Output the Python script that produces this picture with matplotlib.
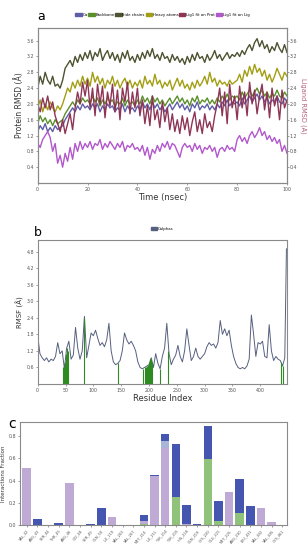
import numpy as np
import matplotlib
matplotlib.use("Agg")
import matplotlib.pyplot as plt
from matplotlib.patches import Patch

# ---------------- Panel a data (RMSD vs time) ----------------
time_ns = list(range(0, 101))
ca_rmsd = [1.3, 1.45, 1.35, 1.5, 1.3, 1.4, 1.3, 1.45, 1.35, 1.4,
           1.45, 1.6, 1.7, 1.8, 1.9, 1.8, 1.95, 1.85, 2.0, 1.9,
           1.95, 1.85, 2.0, 1.9, 2.0, 1.8, 1.95, 1.85, 2.0, 1.9,
           1.95, 1.8, 1.9, 1.85, 2.0, 1.8, 1.95, 1.85, 1.9, 1.8,
           1.95, 1.85, 2.05, 1.9, 2.0, 1.85, 2.05, 1.9, 2.0, 1.85,
           1.95, 1.8, 1.9, 2.0, 1.85, 1.95, 2.05, 1.9, 2.0, 1.85,
           1.95, 1.8, 2.0, 1.9, 2.05, 1.85, 1.95, 1.9, 2.0, 1.85,
           1.95, 1.85, 2.0, 1.9, 2.05, 1.95, 2.1, 1.95, 2.05, 2.0,
           2.05, 1.95, 2.15, 2.0, 2.1, 2.2, 2.05, 2.15, 2.25, 2.1,
           2.2, 2.05, 2.15, 2.0, 2.1, 2.05, 2.2, 2.05, 2.0, 2.15, 2.05]
backbone_rmsd = [1.5, 1.7, 1.55, 1.65, 1.5, 1.6, 1.45, 1.6, 1.5, 1.55,
                 1.6, 1.75, 1.85, 1.95, 2.05, 1.95, 2.1, 2.0, 2.15, 2.05,
                 2.1, 2.0, 2.2, 2.05, 2.15, 1.95, 2.1, 2.0, 2.15, 2.05,
                 2.1, 1.95, 2.05, 2.0, 2.15, 1.95, 2.1, 2.0, 2.05, 1.95,
                 2.1, 2.0, 2.2, 2.05, 2.15, 2.0, 2.2, 2.05, 2.15, 2.0,
                 2.1, 1.95, 2.05, 2.15, 2.0, 2.1, 2.2, 2.05, 2.15, 2.0,
                 2.1, 1.95, 2.15, 2.05, 2.2, 2.0, 2.1, 2.05, 2.15, 2.0,
                 2.1, 2.0, 2.15, 2.05, 2.2, 2.1, 2.25, 2.1, 2.2, 2.15,
                 2.2, 2.1, 2.3, 2.15, 2.25, 2.35, 2.2, 2.3, 2.4, 2.25,
                 2.35, 2.2, 2.3, 2.15, 2.25, 2.2, 2.35, 2.2, 2.15, 2.3, 2.2]
sidechain_rmsd = [2.4, 2.7, 2.5, 2.8, 2.6, 2.5, 2.7, 2.45, 2.5, 2.4,
                  2.6, 2.9, 3.0, 3.1, 2.95, 3.2, 3.05, 3.25, 3.1, 3.3,
                  3.15, 3.35, 3.1, 3.3, 3.2, 3.4, 3.1, 3.25, 3.35, 3.15,
                  3.3, 3.1, 3.25, 3.05, 3.3, 3.15, 3.35, 3.1, 3.2, 3.05,
                  3.25, 3.1, 3.3, 3.15, 3.35, 3.2, 3.4, 3.15, 3.25, 3.1,
                  3.3, 3.15, 3.2, 3.05, 3.25, 3.1, 3.2, 3.05, 3.15, 3.0,
                  3.2, 3.05, 3.25, 3.1, 3.3, 3.15, 3.2, 3.05, 3.25, 3.1,
                  3.2, 3.35, 3.15, 3.25, 3.1, 3.2, 3.3, 3.15, 3.25, 3.2,
                  3.3, 3.2, 3.35, 3.25, 3.4, 3.5, 3.35, 3.55, 3.65, 3.45,
                  3.6, 3.4, 3.5, 3.3, 3.45, 3.35, 3.55, 3.4, 3.3, 3.5, 3.3]
heavy_rmsd = [1.9, 2.1, 1.8, 2.0, 1.85, 2.05, 1.9, 1.8, 1.95, 1.85,
              2.0, 2.2, 2.4, 2.3, 2.55, 2.4, 2.6, 2.45, 2.7, 2.5,
              2.65, 2.45, 2.8, 2.55, 2.7, 2.5, 2.65, 2.4, 2.6, 2.5,
              2.7, 2.45, 2.6, 2.4, 2.55, 2.65, 2.45, 2.6, 2.4, 2.55,
              2.45, 2.6, 2.4, 2.7, 2.5, 2.6, 2.45, 2.75, 2.5, 2.6,
              2.4, 2.55, 2.45, 2.6, 2.35, 2.5, 2.65, 2.45, 2.6, 2.4,
              2.5, 2.35, 2.55, 2.4, 2.6, 2.45, 2.55, 2.7, 2.5, 2.8,
              2.55, 2.65, 2.45, 2.6, 2.5, 2.55, 2.45, 2.6, 2.5, 2.55,
              2.6, 2.75, 2.55, 2.85, 2.7, 2.95, 2.75, 3.0, 2.8, 2.9,
              2.7, 2.85, 2.6, 2.75, 2.55, 2.7, 2.9, 2.75, 2.6, 2.8, 2.7]
lig_on_prot = [2.0, 1.8, 2.15, 1.9, 2.2, 1.85, 2.05, 1.7, 1.5, 1.3,
               1.6, 1.25, 1.5, 1.75, 1.35, 1.9, 2.3, 2.0, 2.55, 2.2,
               2.6, 1.9, 2.4, 1.7, 2.5, 2.0, 2.45, 1.65, 2.3, 1.95,
               2.5, 1.8, 2.35, 1.6, 2.4, 2.05, 2.55, 1.75, 2.3, 1.9,
               2.4, 1.7, 2.1, 1.5, 1.95, 1.45, 2.2, 1.6, 1.85, 1.4,
               2.05, 1.55, 1.9, 1.35, 1.75, 1.3, 1.6, 1.25, 1.7, 1.35,
               1.65, 1.2, 1.55, 1.8, 1.3, 1.6, 1.25, 1.75, 1.4, 1.55,
               1.3, 1.7, 2.0, 2.4, 1.7, 2.3, 1.5, 2.5, 1.9, 2.2,
               1.6, 2.45, 1.9, 2.3, 1.7, 2.55, 2.0, 2.35, 1.75, 2.2,
               2.5, 1.85, 2.3, 1.65, 2.4, 1.95, 2.2, 1.6, 2.35, 1.9, 2.1]
lig_on_lig = [1.0, 0.9, 1.1, 1.2, 1.3, 1.15, 0.8, 1.0, 0.5, 0.7,
              0.4, 0.75, 0.55, 0.9, 0.6, 1.0, 0.8, 1.05, 0.85, 1.0,
              0.9, 1.05, 0.85, 1.0, 0.95, 1.1, 0.85, 1.0, 0.9, 1.05,
              0.95, 0.85, 1.0, 0.9, 1.05, 0.8, 0.95, 0.9, 1.0, 0.85,
              0.9, 0.8, 0.95, 0.7, 0.9, 0.6, 0.85, 0.75, 0.95, 0.8,
              1.0, 0.9, 1.05, 0.85, 1.0, 0.95, 0.8, 0.65, 0.9, 1.0,
              0.9, 0.95, 0.8, 1.0, 0.85, 0.95, 0.75, 0.9, 0.85, 0.95,
              0.8, 0.9, 0.65, 0.85, 0.9, 0.8, 0.95, 0.85, 0.9, 0.8,
              1.1, 1.2, 1.05, 1.15, 1.0, 1.2, 1.3, 1.15, 1.25, 1.4,
              1.2, 1.3, 1.1, 1.2, 1.05, 1.15, 1.0, 1.1, 0.8, 0.95, 0.75]
rmsd_names = ["C\u03b1", "Backbone", "Side chains", "Heavy atoms",
              "Lig1 fit on Prot", "Lig1 fit on Lig"]

# ---------------- Panel b data (RMSF) ----------------
rmsf_residue = list(range(0, 445, 4)) + [447]
rmsf_values = [1.75, 1.1, 0.95, 0.85, 0.95, 0.8, 0.9, 0.85, 1.0, 1.5,
               1.1, 1.2, 0.55, 1.3, 1.55, 0.9, 1.05, 2.05, 1.3, 0.9,
               1.2, 2.45, 0.95, 1.4, 1.85, 1.75, 1.95, 1.65, 1.4, 1.5,
               1.35, 1.6, 2.2, 1.2, 0.8, 0.7, 0.75, 0.85, 1.2, 1.85,
               1.6, 1.45, 1.55, 1.4, 1.2, 0.8, 0.6, 0.55, 0.6, 0.65,
               0.7, 0.95, 0.6, 1.1, 0.75, 0.55, 1.0, 1.3, 2.2, 1.1,
               0.7, 0.9, 1.05, 1.4, 1.0, 0.8, 1.2, 2.0, 1.4, 0.85,
               1.0, 1.3, 1.0, 0.9, 1.0, 1.1, 1.35, 1.5, 1.4, 1.45,
               1.3, 1.5, 2.3, 1.8, 2.0, 1.75, 1.95, 1.4, 1.0, 0.75,
               0.6, 0.55, 0.6, 0.55, 0.65, 0.9, 2.5, 1.8, 1.0, 1.5,
               1.45, 1.55, 1.0, 0.95, 2.15, 1.2, 0.85, 1.0, 0.9, 0.85,
               0.65, 0.95, 4.9]
contact_residue = [46, 47, 48, 49, 50, 51, 52, 53, 54, 83, 144,
                   190, 192, 194, 196, 198, 200, 202, 204, 206, 220, 235, 437, 441]
contact_height = [0.6, 0.6, 0.55, 0.8, 1.0, 1.1, 1.2, 1.3, 1.2, 2.4, 0.75,
                  0.55, 0.6, 0.6, 0.65, 0.7, 0.8, 0.9, 0.95, 0.8, 0.55, 1.2, 0.8, 0.65]

# ---------------- Panel c data (interaction fractions) ----------------
residues = ["VAL_42", "ARG_43", "SER_44", "THR_45", "ARG_46", "GLY_48", "SER_49",
            "GLN_50", "ILE_119", "VAL_203", "VAL_207", "MET_210", "ILE_211",
            "TYR_214", "TYR_215", "HIS_218", "GLN_219", "CYS_220", "GLU_221",
            "MET_225", "ARG_230", "LEU_431", "VAL_432", "VAL_435", "CYS_461"]
hbonds = [0, 0, 0, 0, 0, 0, 0, 0, 0, 0, 0, 0.01, 0, 0, 0.25, 0, 0, 0.59, 0.04,
          0, 0.11, 0, 0, 0, 0]
hydrophobic = [0.51, 0, 0, 0, 0.38, 0, 0, 0, 0.07, 0, 0, 0.03, 0.44, 0.69, 0,
               0.01, 0, 0, 0, 0.30, 0, 0, 0.15, 0.03, 0]
ionic = [0, 0, 0, 0, 0, 0, 0, 0, 0, 0, 0, 0, 0, 0.07, 0, 0, 0, 0, 0, 0, 0, 0,
         0, 0, 0]
water_bridges = [0, 0.05, 0.003, 0.02, 0, 0, 0.01, 0.15, 0, 0, 0, 0.05, 0.006,
                 0.06, 0.48, 0.17, 0.005, 0.30, 0.18, 0, 0.30, 0.17, 0, 0, 0]

# ---------------- Figure ----------------
W, H = 307, 550
fig = plt.figure(figsize=(W / 100, H / 100), dpi=100)
fig.patch.set_facecolor("white")

def frac_box(l, t, r, b):
    return [l / W, 1 - b / H, (r - l) / W, (b - t) / H]

spine_col = "#8a8a8a"
tick_fs = 3.4

def style(ax):
    for s in ax.spines.values():
        s.set_color(spine_col)
        s.set_linewidth(0.8)
    ax.tick_params(labelsize=tick_fs, length=1.5, width=0.4, pad=1.2,
                   colors="#555555")

# Panel a
ax1 = fig.add_axes(frac_box(37.7, 28, 287, 183))
style(ax1)
ax1r = ax1.twinx()
style(ax1r)
ax1r.tick_params(pad=0.8, length=1.2)
cols_a = ["#5d5da8", "#5a8f2a", "#4d5230", "#a29e12", "#8e3556", "#b257cc"]
lw = 1.0
ax1.plot(time_ns, ca_rmsd, color=cols_a[0], lw=lw)
ax1.plot(time_ns, backbone_rmsd, color=cols_a[1], lw=lw)
ax1.plot(time_ns, sidechain_rmsd, color=cols_a[2], lw=lw)
ax1.plot(time_ns, heavy_rmsd, color=cols_a[3], lw=lw)
ax1r.plot(time_ns, lig_on_prot, color=cols_a[4], lw=lw)
ax1r.plot(time_ns, lig_on_lig, color=cols_a[5], lw=lw)
yt = [0.4, 0.8, 1.2, 1.6, 2.0, 2.4, 2.8, 3.2, 3.6]
for a in (ax1, ax1r):
    a.set_ylim(0, 3.92)
    a.set_yticks(yt)
    a.set_yticklabels([f"{v:.1f}" for v in yt])
ax1.set_xlim(0, 100)
ax1.set_xticks([0, 20, 40, 60, 80, 100])
ax1.set_xlabel("Time (nsec)", fontsize=6, labelpad=1, color="#333333")
ax1.set_ylabel("Protein RMSD (\u00c5)", fontsize=5.5, labelpad=2, color="#333333")
ax1r.set_ylabel("Ligand RMSD (\u00c5)", fontsize=4.8, color="#b5607a",
                rotation=270, va="center")
ax1r.yaxis.set_label_coords(1.066, 0.5)
handles = [Patch(facecolor=c, edgecolor=c) for c in cols_a]
ax1.legend(handles, rmsd_names, loc="center", bbox_to_anchor=(0.5, 1.085),
           ncol=6, fontsize=2.8, frameon=False, handlelength=1.6,
           handleheight=0.8, columnspacing=0.2, handletextpad=0.2)
fig.text(37 / W, 1 - 16 / H, "a", fontsize=9, va="center", ha="left")

# Panel b
ax2 = fig.add_axes(frac_box(37.7, 240, 287, 384))
style(ax2)
ax2.plot(rmsf_residue, rmsf_values, color="#56607f", lw=0.7, label="Calphas")
ax2.vlines(contact_residue, 0, contact_height, color="#2e8b22", lw=0.8)
ax2.set_xlim(0, 448)
ax2.set_ylim(0, 5.22)
yt2 = [0.6, 1.2, 1.8, 2.4, 3.0, 3.6, 4.2, 4.8]
ax2.set_yticks(yt2)
ax2.set_yticklabels([f"{v:.1f}" for v in yt2])
ax2.set_xticks([0, 50, 100, 150, 200, 250, 300, 350, 400])
ax2.set_xlabel("Residue Index", fontsize=6, labelpad=1, color="#333333")
ax2.set_ylabel("RMSF (\u00c5)", fontsize=5, labelpad=2, color="#333333")
ax2.legend(handles=[Patch(facecolor="#56607f", edgecolor="#56607f")],
           labels=["Calphas"], loc="center", bbox_to_anchor=(0.5, 1.075),
           fontsize=2.8, frameon=False, handlelength=1.6, handleheight=0.8,
           handletextpad=0.2)
fig.text(34 / W, 1 - 233 / H, "b", fontsize=9, va="center", ha="left")

# Panel c
ax3 = fig.add_axes(frac_box(20, 421.7, 287, 525))
style(ax3)
x = np.arange(len(residues))
hb = np.array(hbonds)
hy = np.array(hydrophobic)
io = np.array(ionic)
wb = np.array(water_bridges)
bw = 0.8
ax3.bar(x, hb, width=bw, color="#8fc27a")
ax3.bar(x, hy, width=bw, bottom=hb, color="#bfaad6")
ax3.bar(x, io, width=bw, bottom=hb + hy, color="#a9b5d6")
ax3.bar(x, wb, width=bw, bottom=hb + hy + io, color="#4456b0")
ax3.set_xlim(-0.63, len(residues) - 0.56)
ax3.set_ylim(0, 0.93)
ax3.set_yticks([0.0, 0.2, 0.4, 0.6, 0.8])
ax3.set_yticklabels(["0.0", "0.2", "0.4", "0.6", "0.8"])
ax3.set_xticks(x)
ax3.set_xticklabels(residues, rotation=50, ha="right", rotation_mode="anchor",
                    fontsize=2.6)
ax3.set_ylabel("Interactions Fraction", fontsize=4, labelpad=2, color="#333333")
fig.text(8 / W, 1 - 424 / H, "c", fontsize=10, va="center", ha="left")

fig.savefig("out.png", dpi=100, facecolor="white")
